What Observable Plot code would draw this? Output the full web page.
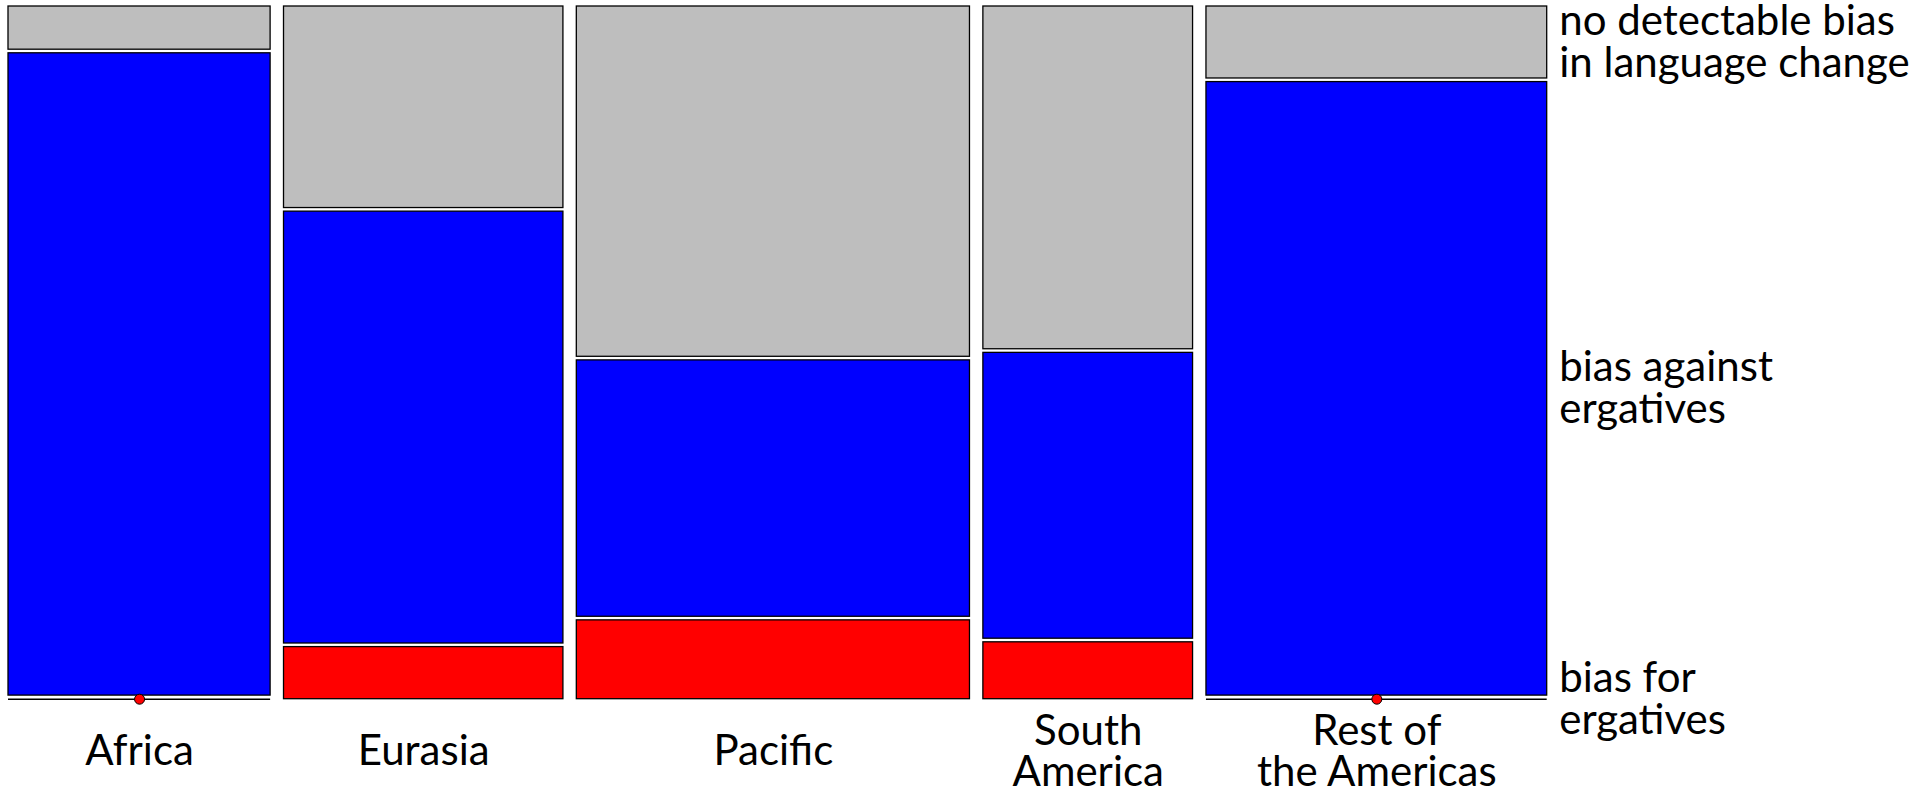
<!DOCTYPE html>
<html><head><meta charset="utf-8">
<script src="https://cdn.jsdelivr.net/npm/d3@7"></script>
<script src="https://cdn.jsdelivr.net/npm/@observablehq/plot@0.6"></script>
<style>body{margin:0;background:#fff} #chart svg{display:block}</style>
</head><body><div id="chart"></div>
<script>
// Data
const regions = ["Africa", "Eurasia", "Pacific", "South\nAmerica", "Rest of\nthe Americas"];
const regionWeights = [50, 53.3, 75, 40, 65];            // column widths (relative size of each macroarea)
const categories = ["bias for ergatives", "bias against ergatives", "no detectable bias in language change"];
const categoryLabels = ["bias for\nergatives", "bias against\nergatives", "no detectable bias\nin language change"];
const forErgatives     = [0,    7.6, 11.5,  8.3, 0];      // % per region (bottom)
const againstErgatives = [93.7, 63.0, 37.4, 41.7, 89.5];  // % per region (middle)
const noBias           = [6.3, 29.4, 51.1, 50.0, 10.5];   // % per region (top)
const colors = ["#FF0000", "#0000FF", "#BEBEBE"];

// Layout
const W = 1914, H = 793;
const mL = 8, mR = 367.3, mT = 6, mB = 94.3;
const gapPx = 13.4, gapYPx = 3.6;
const plotW = W - mL - mR, plotH = H - mT - mB;
const totalW = d3.sum(regionWeights);
const gapX = gapPx * totalW / (plotW - 4 * gapPx);
const gapY = gapYPx * 100 / (plotH - 2 * gapYPx);
const xMax = totalW + 4 * gapX, yMax = 100 + 2 * gapY;

const series = [forErgatives, againstErgatives, noBias];
const cells = [];
const columns = [];
let cum = 0;
regions.forEach((r, i) => {
  const x1 = cum + i * gapX, x2 = x1 + regionWeights[i];
  columns.push({region: r, x: (x1 + x2) / 2, x1, x2});
  let cy = 0;
  categories.forEach((c, j) => {
    const v = series[j][i];
    const y1 = cy + j * gapY, y2 = y1 + v;
    cells.push({region: r, cat: c, label: categoryLabels[j], value: v, x1, x2, y1, y2, xc: (x1 + x2) / 2, yc: (y1 + y2) / 2});
    cy += v;
  });
  cum += regionWeights[i];
});
const lastCol = cells.filter(d => d.region === regions[regions.length - 1]);
const nonZero = cells.filter(d => d.value > 0);
const zeros = cells.filter(d => d.value === 0);

const font = "Lato, 'Noto Sans', sans-serif";
const chart = Plot.plot({
  width: W, height: H,
  marginLeft: mL, marginRight: mR, marginTop: mT, marginBottom: mB,
  x: {domain: [0, xMax], axis: null},
  y: {domain: [0, yMax], axis: null},
  color: {domain: categories, range: colors},
  style: {fontFamily: font, background: "#fff"},
  marks: [
    Plot.rect(nonZero, {x1: "x1", x2: "x2", y1: "y1", y2: "y2", fill: "cat", stroke: "#000", strokeWidth: 1.3}),
    Plot.ruleY(zeros, {y: "y1", x1: "x1", x2: "x2", stroke: "#000", strokeWidth: 1.6}),
    Plot.dot(zeros, {x: "xc", y: "y1", r: 5, fill: "cat", stroke: "#000", strokeWidth: 1}),
    Plot.text(columns, {x: "x", y: 0, text: "region", dy: 53, lineAnchor: "middle", lineHeight: 0.98, fontSize: 42, fill: "#000", fontFamily: font}),
    Plot.text(lastCol, {x: xMax, y: "yc", text: "label", dx: 12, textAnchor: "start", lineAnchor: "middle", lineHeight: 1.0, fontSize: 42, fill: "#000", fontFamily: font})
  ]
});
document.getElementById("chart").appendChild(chart);
</script></body></html>
